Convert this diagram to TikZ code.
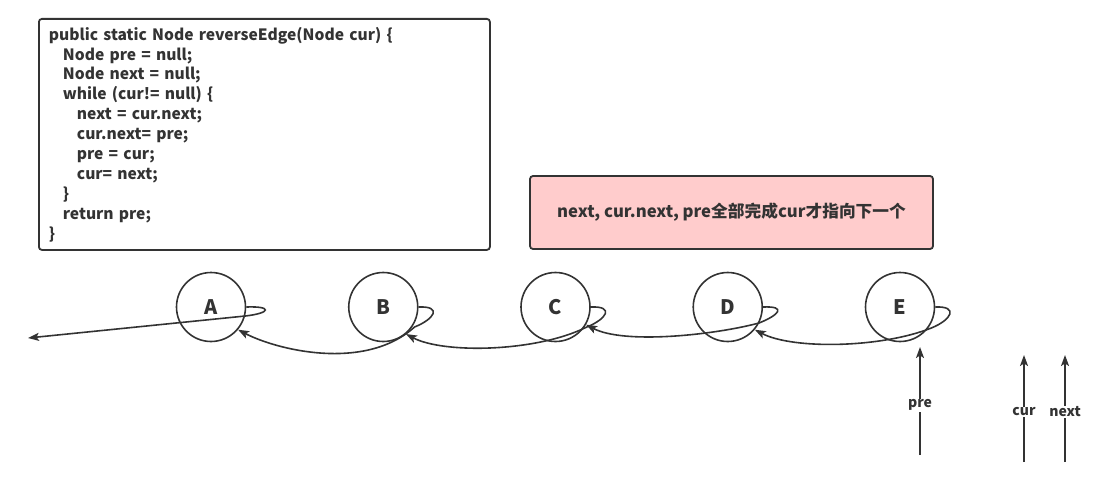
\documentclass[tikz,border=0pt]{standalone}
\usepackage{fontspec}
\setmainfont{Noto Sans CJK SC}
\usetikzlibrary{arrows.meta}
\definecolor{ink}{HTML}{333333}
\definecolor{notepink}{RGB}{255,204,204}

\begin{document}
\begin{tikzpicture}[x=1pt,y=-1pt,
  listnode/.style={circle,draw=ink,line width=1.6pt,minimum size=69pt,inner sep=0pt,text=ink,font=\fontsize{20}{20}\selectfont\bfseries},
  link/.style={draw=ink,line width=1.6pt,-{Stealth[length=11pt,width=8pt,inset=2.5pt]}},
  codebox/.style={draw=ink,line width=1.8pt,rounded corners=3pt,fill=white,anchor=north west,minimum width=451pt,minimum height=231pt,text width=431pt,inner xsep=10pt,align=left,text=ink,font=\fontsize{15.6}{19.9}\selectfont\bfseries},
  notebox/.style={draw=ink,line width=1.8pt,rounded corners=3pt,fill=notepink,minimum width=403pt,minimum height=73pt,text=ink,font=\fontsize{16.7}{18}\selectfont\bfseries},
  ptrlabel/.style={fill=white,inner sep=1pt,text=ink,font=\fontsize{14}{14}\selectfont\bfseries}]
\useasboundingbox (0,0) rectangle (1107,487);

% code and note
\node[codebox] (code) at (38,18) {public static Node reverseEdge(Node cur) \{\\
\hspace*{14pt}Node pre = null;\\
\hspace*{14pt}Node next = null;\\
\hspace*{14pt}while (cur!= null) \{\\
\hspace*{28pt}next = cur.next;\\
\hspace*{28pt}cur.next= pre;\\
\hspace*{28pt}pre = cur;\\
\hspace*{28pt}cur= next;\\
\hspace*{14pt}\}\\
\hspace*{14pt}return pre;\\
\}};
\node[notebox] (note) at (731.5,212.5) {next, cur.next, pre全部完成cur才指向下一个};

% list nodes
\foreach \n [count=\i] in {A,B,C,D,E}
  \node[listnode] (\n) at (211+172.25*\i-172.25,307) {\n};

% reversed links
\coordinate (nil) at (28,338);
\draw[link] (A.east) .. controls +(26,-1) and +(26,-3) .. ++(-1,9) -- (nil);
\foreach \s/\t/\ang/\qx/\qy/\dx/\dy in {B/A/-40/-4/20/-50/45, C/B/-50/-4/20/-50/25, D/C/-30/-4/16/-45/12, E/D/-40/-4/21/-50/20}
  \draw[link] (\s.east) .. controls +(24,-1) and +(20,-8) .. ++(\qx,\qy)
    .. controls +(\dx,\dy) and +(38,20) .. (\t.\ang);

% pointers
\coordinate (pre0) at (920,455);
\coordinate (pre1) at (920,347);
\coordinate (cur0) at (1024,462);
\coordinate (cur1) at (1024,355);
\coordinate (next0) at (1065,462);
\coordinate (next1) at (1065,355);
\draw[link] (pre0) -- node[ptrlabel,pos=0.46] {pre} (pre1);
\draw[link] (cur0) -- node[ptrlabel,pos=0.47] {cur} (cur1);
\draw[link] (next0) -- node[ptrlabel,pos=0.47] {next} (next1);
\end{tikzpicture}
\end{document}
